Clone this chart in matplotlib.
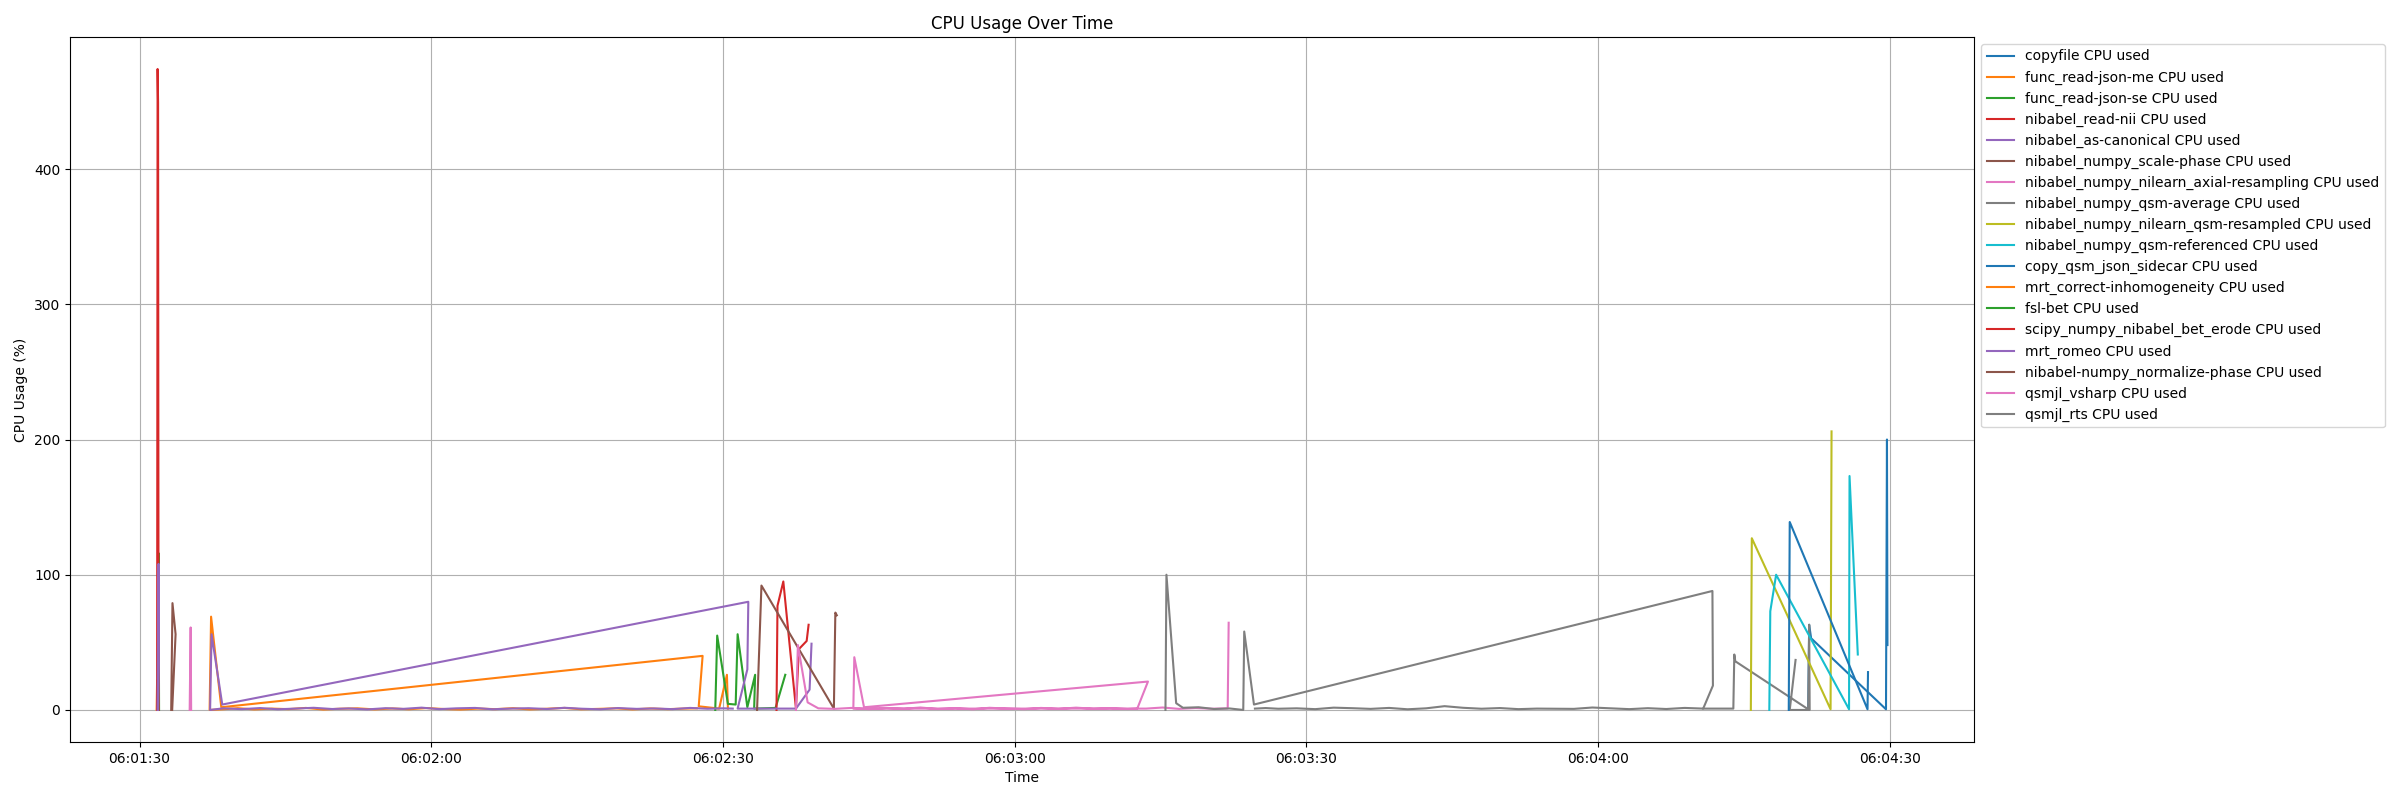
import numpy as np
import matplotlib
matplotlib.use("Agg")
import matplotlib.pyplot as plt
import matplotlib.dates as mdates

BASE = np.datetime64("2024-01-01T06:01:30")

# ---- data: seconds after 06:01:30 (in recorded order) and CPU usage (%) ----
copyfile_t = [171.6, 171.7, 171.9, 179.6, 179.7, 179.75]
copyfile_v = [0, 63, 53, 0.5, 200, 48]

read_json_me_t = [1.75, 1.8, 1.85]
read_json_me_v = [0, 22, 0]

read_json_se_t = [1.85, 1.95, 2.0]
read_json_se_v = [0, 116, 0]

read_nii_t = [1.8, 1.85, 1.9, 1.95]
read_nii_v = [0, 474, 449, 0]

as_canonical_t = [1.85, 1.95, 1.98, 1.9]
as_canonical_v = [0, 108, 34, 0]

scale_phase_t = [3.25, 3.38, 3.7, 3.35]
scale_phase_v = [0, 79, 56, 0]

axial_resampling_t = [5.15, 5.25, 5.3]
axial_resampling_v = [0, 61, 0]

qsm_average_t = [160.8, 163.9, 164.0, 164.1, 171.6, 171.7, 171.75, 169.7, 170.3]
qsm_average_v = [1, 1, 41, 36, 0.5, 63, 0, 0, 37]

qsm_resampled_t = [165.7, 165.8, 173.9, 174.0]
qsm_resampled_v = [0, 127, 0.5, 206]

qsm_referenced_t = [167.6, 167.7, 168.3, 175.8, 175.85, 176.7]
qsm_referenced_v = [0, 73, 100, 0.5, 173, 41]

sidecar_t = [169.6, 169.7, 177.7, 177.75]
sidecar_v = [0, 139, 0.5, 28]

inhomog_spike_t = [60.5, 60.4, 59.6, 57.5, 57.9, 8.4, 7.35, 7.2]
inhomog_spike_v = [1, 26, 1, 2.7, 40, 2, 69, 0]
inhomog_flat_t = [8.6, 10.1, 11.8, 13.6, 15.3, 17.1, 18.9, 20.6, 22.4, 24.2,
                  26.0, 27.7, 29.5, 31.3, 33.0, 34.8, 36.6, 38.4, 40.1, 41.9,
                  43.7, 45.4, 47.2, 49.0, 50.7, 52.5, 54.3, 56.0, 57.3]
inhomog_flat_v = [0.5, 1.3, 0.4, 1.0, 0.6, 1.5, 0.3, 0.9, 1.2, 0.4,
                  1.1, 0.5, 1.4, 0.7, 0.3, 1.0, 0.6, 1.3, 0.4, 0.9,
                  1.5, 0.5, 0.8, 1.2, 0.4, 1.1, 0.6, 1.0, 1.2]

fsl_bet_t = [59.2, 59.4, 60.5, 61.3, 61.5, 62.5, 63.3, 63.2, 65.4, 66.4]
fsl_bet_v = [0, 55, 4.5, 4, 56, 2, 26, 1, 1.5, 26]

bet_erode_t = [65.5, 65.6, 66.2, 67.5, 67.8, 68.6, 68.8]
bet_erode_v = [0, 77, 95, 1, 45, 51, 63]

romeo_spike_t = [69.1, 68.9, 67.5, 61.5, 62.5, 62.6, 8.5, 7.4, 7.25]
romeo_spike_v = [49, 15, 1, 1, 30, 80, 4, 56, 0]
romeo_flat_t = [8.6, 10.5, 12.4, 14.2, 16.0, 17.9, 19.8, 21.5, 23.4, 25.3,
                27.1, 29.0, 30.8, 32.6, 34.5, 36.3, 38.2, 40.0, 41.9, 43.7,
                45.5, 47.4, 49.2, 51.1, 52.9, 54.8, 56.6, 58.4, 60.0, 61.0]
romeo_flat_v = [1.2, 0.6, 1.4, 0.5, 1.0, 1.6, 0.7, 1.1, 0.4, 1.3,
                0.8, 1.7, 0.6, 1.2, 1.5, 0.5, 1.0, 1.3, 0.7, 1.6,
                0.9, 0.5, 1.4, 0.8, 1.1, 0.6, 1.5, 0.9, 1.2, 1.0]

normalize_phase_t = [63.5, 63.95, 71.4, 71.55, 71.7]
normalize_phase_v = [0, 92, 1, 72, 70]

vsharp_a_t = [67.5, 67.7, 68.7]
vsharp_a_v = [0, 48, 5.6]
vsharp_flat1_t = [69.8, 71.5, 73.2, 75.0, 76.8, 78.6, 80.3, 82.1, 83.9, 85.7,
                  87.4, 89.2, 91.0, 92.7, 94.5, 96.3, 98.1, 99.8, 101.6, 102.6]
vsharp_flat1_v = [1.2, 0.8, 1.5, 0.6, 1.4, 0.9, 1.8, 0.7, 1.3, 0.5,
                  1.6, 1.0, 0.6, 1.5, 0.8, 1.7, 0.9, 1.3, 0.7, 1.0]
vsharp_b_t = [103.7, 74.5, 73.5, 73.4]
vsharp_b_v = [21, 2, 39, 1]
vsharp_flat2_t = [103.5, 105.2, 106.9, 108.6, 110.3, 111.9, 112.0]
vsharp_flat2_v = [1.0, 1.8, 0.8, 1.4, 0.9, 1.2, 64.5]

rts_a_t = [105.5, 105.6, 106.6, 107.3, 108.9, 110.5, 112.1, 113.5, 113.6, 114.6,
           161.75, 161.8, 160.8]
rts_a_v = [0, 100, 5, 1.6, 2.0, 0.7, 1.1, 0.0, 58, 4,
           88, 18, 1]
rts_flat_t = [158.9, 157.0, 155.1, 153.2, 151.3, 149.4, 147.5, 145.6, 143.7,
              141.8, 139.9, 138.0, 136.1, 134.2, 132.3, 130.4, 128.5, 126.6,
              124.7, 122.8, 120.9, 119.0, 117.1, 115.8, 114.7]
rts_flat_v = [1.5, 0.7, 1.3, 0.6, 1.2, 1.8, 0.8, 0.9, 1.0,
              0.6, 1.4, 0.9, 1.6, 2.8, 1.2, 0.5, 1.5, 0.8,
              1.3, 1.7, 0.6, 1.2, 0.9, 1.4, 1.0]

series = [
    ("copyfile CPU used", copyfile_t, copyfile_v),
    ("func_read-json-me CPU used", read_json_me_t, read_json_me_v),
    ("func_read-json-se CPU used", read_json_se_t, read_json_se_v),
    ("nibabel_read-nii CPU used", read_nii_t, read_nii_v),
    ("nibabel_as-canonical CPU used", as_canonical_t, as_canonical_v),
    ("nibabel_numpy_scale-phase CPU used", scale_phase_t, scale_phase_v),
    ("nibabel_numpy_nilearn_axial-resampling CPU used", axial_resampling_t, axial_resampling_v),
    ("nibabel_numpy_qsm-average CPU used", qsm_average_t, qsm_average_v),
    ("nibabel_numpy_nilearn_qsm-resampled CPU used", qsm_resampled_t, qsm_resampled_v),
    ("nibabel_numpy_qsm-referenced CPU used", qsm_referenced_t, qsm_referenced_v),
    ("copy_qsm_json_sidecar CPU used", sidecar_t, sidecar_v),
    ("mrt_correct-inhomogeneity CPU used", inhomog_spike_t + inhomog_flat_t,
     inhomog_spike_v + inhomog_flat_v),
    ("fsl-bet CPU used", fsl_bet_t, fsl_bet_v),
    ("scipy_numpy_nibabel_bet_erode CPU used", bet_erode_t, bet_erode_v),
    ("mrt_romeo CPU used", romeo_spike_t + romeo_flat_t, romeo_spike_v + romeo_flat_v),
    ("nibabel-numpy_normalize-phase CPU used", normalize_phase_t, normalize_phase_v),
    ("qsmjl_vsharp CPU used", vsharp_a_t + vsharp_flat1_t + vsharp_b_t + vsharp_flat2_t,
     vsharp_a_v + vsharp_flat1_v + vsharp_b_v + vsharp_flat2_v),
    ("qsmjl_rts CPU used", rts_a_t + rts_flat_t, rts_a_v + rts_flat_v),
]


def to_time(secs):
    ms = np.round(np.asarray(secs, dtype=float) * 1000).astype("int64")
    return BASE + ms.astype("timedelta64[ms]")


fig = plt.figure(figsize=(24, 8), dpi=100)
ax = fig.add_axes([0.0292, 0.0725, 0.7933, 0.8813])

for label, t, v in series:
    ax.plot(to_time(t), v, label=label, linewidth=1.5)

ax.set_title("CPU Usage Over Time")
ax.set_xlabel("Time")
ax.set_ylabel("CPU Usage (%)")
ax.grid(True)
ax.xaxis.set_major_locator(mdates.SecondLocator(bysecond=[0, 30]))
ax.xaxis.set_major_formatter(mdates.DateFormatter("%H:%M:%S"))
ax.legend(loc="upper left", bbox_to_anchor=(1, 1))

fig.savefig("out.png", dpi=100)
